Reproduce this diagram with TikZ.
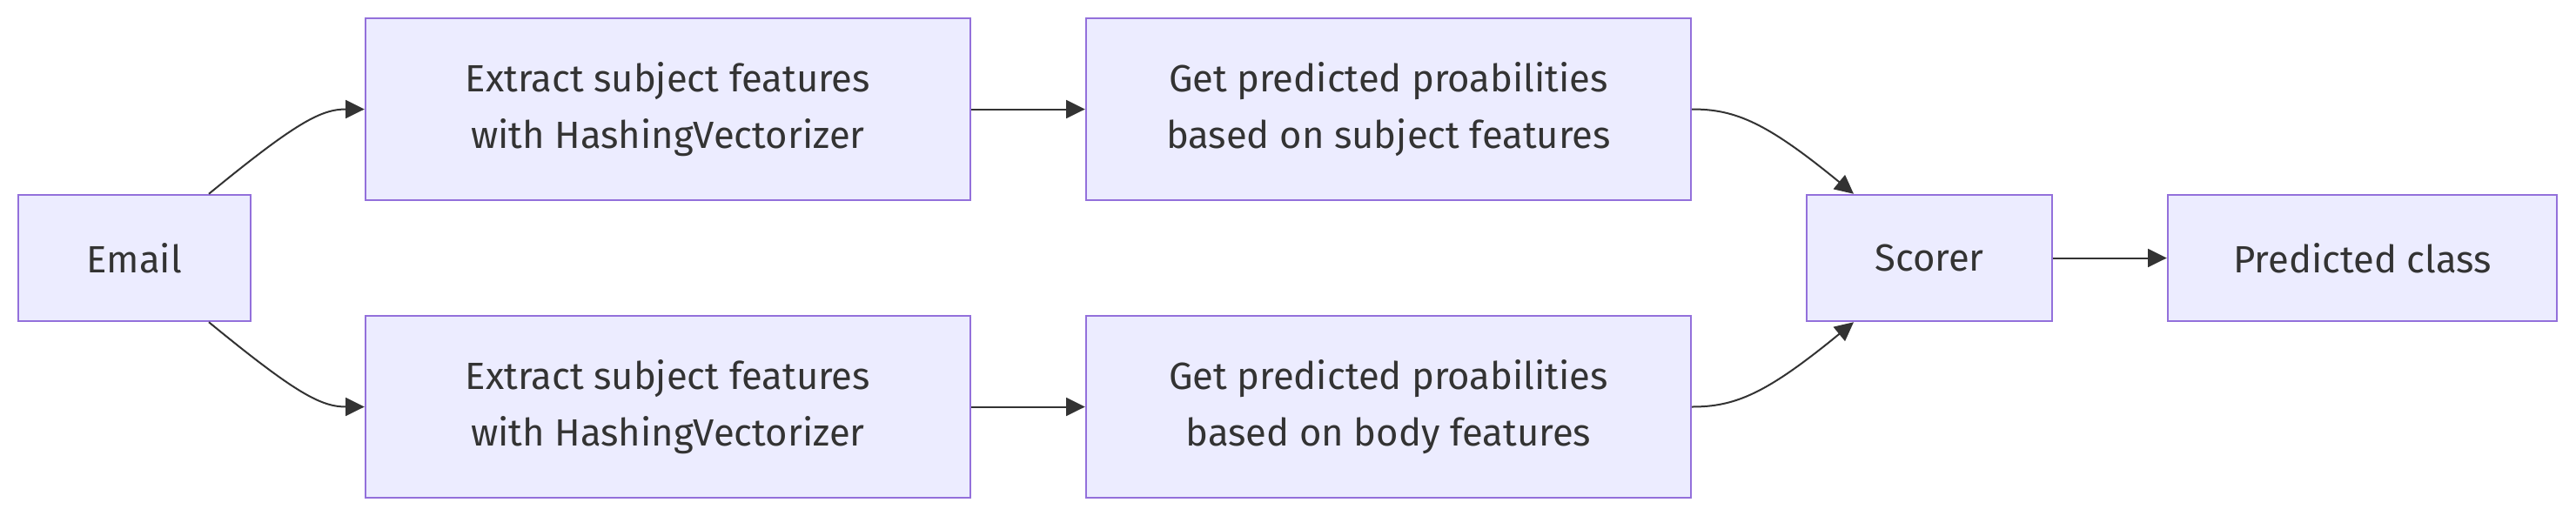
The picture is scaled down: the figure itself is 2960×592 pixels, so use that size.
\documentclass[tikz,border=0pt]{standalone}
\usepackage{fontspec}
\setmainfont{Fira Sans}
\usetikzlibrary{arrows.meta,calc}

\definecolor{procfill}{HTML}{ECECFF}
\definecolor{procline}{HTML}{9370DB}
\definecolor{flowline}{HTML}{333333}

\tikzset{every picture/.style={line width=0.5pt}}
\tikzset{
  procbox/.style={draw=procline, line width=0.6pt, fill=procfill, text=flowline, align=center, inner sep=0pt,
    font=\fontsize{10.9}{16.25}\selectfont},
  flow/.style={draw=flowline, -{Triangle[length=5.4pt,width=5.2pt]}},
}

\begin{document}
\begin{tikzpicture}[x=0.25pt,y=0.25pt,yscale=-1,xscale=1]
%set diagram left start at 0, and has height of 592
\useasboundingbox (0,0) rectangle (2960,592);

%Flowchart: Process
\node [procbox, minimum width=66.75pt, minimum height=36.25pt] (email) at (154.5,296.5) {Email};
%Flowchart: Process
\node [procbox, minimum width=173.75pt, minimum height=52.25pt] (extTop) at (767.5,125.5) {Extract subject features\\ with HashingVectorizer};
%Flowchart: Process
\node [procbox, minimum width=173.75pt, minimum height=52.25pt] (extBot) at (767.5,467.5) {Extract subject features\\ with HashingVectorizer};
%Flowchart: Process
\node [procbox, minimum width=173.75pt, minimum height=52.25pt] (getTop) at (1595.5,125.5) {Get predicted proabilities\\ based on subject features};
%Flowchart: Process
\node [procbox, minimum width=173.75pt, minimum height=52.25pt] (getBot) at (1595.5,467.5) {Get predicted proabilities\\ based on body features};
%Flowchart: Process
\node [procbox, minimum width=70.5pt, minimum height=36.25pt] (scorer) at (2217,296.5) {Scorer};
%Flowchart: Process
\node [procbox, minimum width=111.75pt, minimum height=36.25pt] (predicted) at (2714.5,296.5) {Predicted class};

%Curves
\draw [flow] ($(email.north)+(85.5,0)$) .. controls +(100,-82) and +(-50,0) .. (extTop.west);
\draw [flow] ($(email.south)+(85.5,0)$) .. controls +(100,82) and +(-50,0) .. (extBot.west);
\draw [flow] (getTop.east) .. controls +(50,0) and +(-100,-82) .. ($(scorer.north)+(-87,0)$);
\draw [flow] (getBot.east) .. controls +(50,0) and +(-100,82) .. ($(scorer.south)+(-87,0)$);
%Straight Lines
\draw [flow] (extTop) -- (getTop);
\draw [flow] (extBot) -- (getBot);
\draw [flow] (scorer) -- (predicted);

\end{tikzpicture}
\end{document}
